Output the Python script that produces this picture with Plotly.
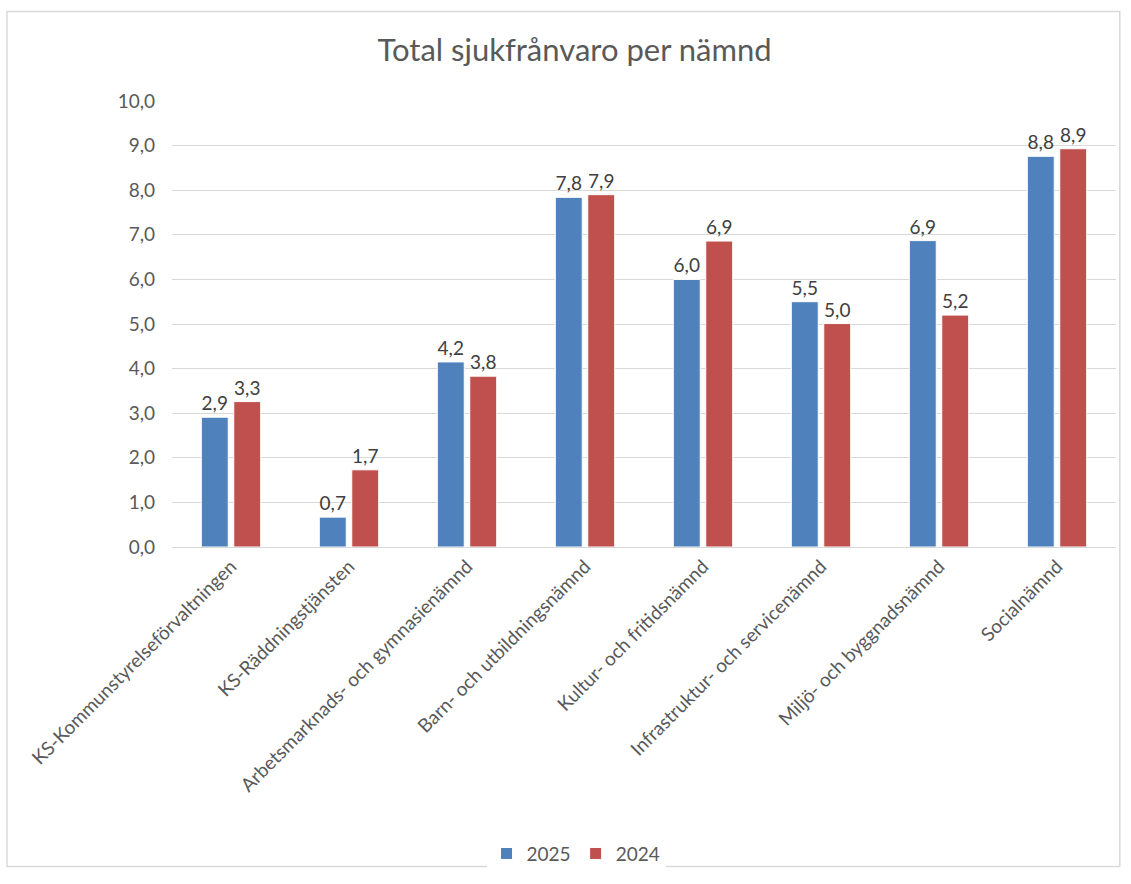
import plotly.graph_objects as go

categories = [
    "KS-Kommunstyrelseförvaltningen",
    "KS-Räddningstjänsten",
    "Arbetsmarknads- och gymnasienämnd",
    "Barn- och utbildningsnämnd",
    "Kultur- och fritidsnämnd",
    "Infrastruktur- och servicenämnd",
    "Miljö- och byggnadsnämnd",
    "Socialnämnd",
]
values_2025 = [2.91, 0.67, 4.15, 7.84, 6.0, 5.5, 6.87, 8.76]
values_2024 = [3.26, 1.73, 3.83, 7.9, 6.86, 5.01, 5.2, 8.93]
y_ticks = [0, 1, 2, 3, 4, 5, 6, 7, 8, 9, 10]

FONT = "Lato"
TXT = "#595959"
LBL = "#404040"

fig = go.Figure()
fig.add_trace(go.Bar(
    name="2025", x=categories, y=values_2025,
    marker=dict(color="#4F81BD", line=dict(color="#FFFFFF", width=1)),
    texttemplate="%{y:.1f}", textposition="outside", cliponaxis=False,
    textfont=dict(size=19, color=LBL, family=FONT),
))
fig.add_trace(go.Bar(
    name="2024", x=categories, y=values_2024,
    marker=dict(color="#C0504D", line=dict(color="#FFFFFF", width=1)),
    texttemplate="%{y:.1f}", textposition="outside", cliponaxis=False,
    textfont=dict(size=19, color=LBL, family=FONT),
))

fig.update_layout(
    width=1131, height=884,
    separators=", ",
    paper_bgcolor="white", plot_bgcolor="white",
    margin=dict(l=172, r=15, t=101, b=335),
    barmode="group", bargap=0.45, bargroupgap=0.17,
    font=dict(family=FONT, color=TXT, size=19),
    title=dict(text="Total sjukfrånvaro per nämnd", x=0.508, xanchor="center",
               y=0.943, yanchor="middle", xref="container", yref="container",
               font=dict(size=31, color=TXT, family=FONT)),
    xaxis=dict(tickangle=-45, tickfont=dict(size=19, color=TXT), showgrid=False,
               showline=True, linecolor="#D9D9D9", ticks="", automargin=False),
    yaxis=dict(range=[0, 10], tickvals=y_ticks, tickformat=".1f",
               showgrid=True, gridcolor="#D9D9D9", gridwidth=1, zeroline=False,
               tickfont=dict(size=19, color=TXT), ticklabelstandoff=16,
               automargin=False),
    legend=dict(orientation="h", x=0.428, xanchor="center", y=-0.6875,
                yanchor="middle", font=dict(size=19, color=TXT),
                traceorder="normal"),
    shapes=[dict(type="rect", xref="paper", yref="paper",
                 x0=-0.1748, x1=1.004, y0=-0.7165, y1=1.2009,
                 line=dict(color="#D9D9D9", width=1.5), fillcolor="rgba(0,0,0,0)")],
)

fig.write_html("out.html")
